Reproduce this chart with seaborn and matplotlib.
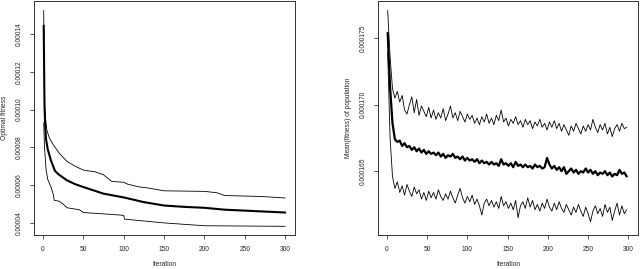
import numpy as np
import pandas as pd
import matplotlib
matplotlib.use("Agg")
import matplotlib.pyplot as plt
import matplotlib.ticker as mticker
import seaborn as sns

# panel izquierdo: fitness optimo (nudos, unidades 1e-5)
it_sup = [1, 2, 3, 5, 8, 12, 20, 30, 40, 50, 65, 75, 85, 100, 105, 120, 130, 150, 200, 215, 225, 270, 300]
opt_sup = [15.25, 10.4, 9.6, 8.9, 8.5, 8.2, 7.7, 7.25, 7.0, 6.8, 6.7, 6.55, 6.2, 6.15, 6.05, 5.9, 5.85,
           5.7, 5.67, 5.6, 5.45, 5.4, 5.32]
it_med = [1, 2, 3, 4, 6, 8, 10, 15, 20, 30, 40, 50, 75, 100, 110, 125, 150, 175, 200, 225, 250, 300]
opt_med = [14.45, 10.2, 9.0, 8.4, 7.9, 7.6, 7.3, 6.75, 6.55, 6.25, 6.05, 5.9, 5.55, 5.35, 5.25, 5.1,
           4.92, 4.85, 4.8, 4.7, 4.65, 4.55]
it_inf = [1, 2, 4, 6, 10, 13, 14, 20, 25, 30, 45, 50, 85, 100, 101, 150, 200, 300]
opt_inf = [9.3, 8.0, 6.8, 6.3, 5.9, 5.5, 5.2, 5.15, 5.0, 4.8, 4.7, 4.55, 4.45, 4.4, 4.2, 4.0, 3.85, 3.82]

# panel derecho: media del fitness de la poblacion (cada 3 iteraciones, unidades 1e-6)
media_sup = [177.1, 173.6, 171.2, 170.5, 171.0, 170.2, 170.7, 169.6, 169.3, 170.0,
             170.6, 169.4, 170.4, 169.2, 169.9, 169.5, 169.1, 169.8, 169.0, 169.6,
             168.9, 169.4, 169.0, 169.7, 168.8, 169.3, 169.9, 169.0, 169.4, 168.8,
             169.5, 169.1, 168.7, 169.3, 168.9, 169.2, 168.6, 169.0, 168.5, 169.1,
             168.7, 169.3, 168.6, 169.0, 168.5, 169.2, 168.8, 169.6, 168.7, 169.0,
             168.4, 168.9, 168.6, 169.1, 168.5, 168.8, 168.3, 168.9, 168.5, 168.8,
             168.2, 168.7, 168.4, 168.9, 168.3, 168.6, 168.1, 168.7, 168.3, 168.8,
             168.2, 168.6, 168.0, 168.5, 168.1, 167.7, 168.4, 168.0, 168.6, 168.2,
             167.8, 168.4, 168.0, 168.5, 168.1, 168.9, 168.3, 167.9, 168.5, 168.1,
             168.6, 167.8, 168.3, 167.6, 168.2, 168.5, 168.0, 168.6, 168.2, 168.3]
media_med = [175.4, 171.3, 168.6, 167.4, 167.2, 167.3, 166.9, 167.1, 166.8, 166.9,
             166.6, 166.8, 166.5, 166.7, 166.4, 166.6, 166.3, 166.5, 166.3, 166.4,
             166.2, 166.4, 166.1, 166.3, 166.0, 166.2, 166.1, 166.3, 166.0, 166.1,
             165.9, 166.1, 165.8, 166.0, 165.8, 165.9, 165.7, 165.9, 165.6, 165.8,
             165.6, 165.7, 165.5, 165.7, 165.5, 165.6, 165.4, 165.9, 165.5, 165.6,
             165.4, 165.6, 165.3, 165.7, 165.4, 165.5, 165.3, 165.5, 165.3, 165.4,
             165.2, 165.5, 165.3, 165.4, 165.2, 165.3, 166.0, 165.5, 165.2, 165.4,
             165.1, 165.3, 165.0, 165.3, 164.8, 165.0, 165.2, 164.9, 165.1, 164.8,
             165.0, 164.9, 165.2, 164.9, 165.1, 164.8, 165.0, 164.7, 164.9, 164.8,
             165.0, 164.7, 164.9, 164.6, 164.8, 164.7, 165.1, 164.8, 164.9, 164.6]
media_inf = [174.0, 167.5, 164.6, 163.7, 164.2, 163.4, 163.9, 163.2, 164.0, 163.5,
             163.1, 163.8, 163.3, 163.6, 162.9, 163.4, 162.8, 163.5, 163.0, 163.4,
             162.9, 163.6, 163.1, 162.8, 163.3, 162.9, 163.5, 163.0, 162.6, 163.2,
             163.7, 163.0, 162.6, 163.1, 162.7, 163.2, 162.5, 162.9, 162.4, 161.7,
             162.6, 162.9, 162.4, 162.8, 162.3, 162.7, 162.2, 163.1, 162.4, 162.7,
             162.2, 162.6, 162.1, 162.8, 161.5, 162.4, 162.7, 162.2, 163.0, 162.3,
             162.8, 162.1, 162.5, 162.0, 162.6, 162.2, 162.9, 162.3, 162.0, 162.6,
             162.1, 162.7, 162.2, 161.9, 162.5, 162.1, 161.7, 162.3, 161.9, 162.5,
             162.0, 161.6, 162.3, 161.8, 161.2, 162.0, 162.4, 161.8, 162.2, 161.6,
             162.5, 161.9, 162.3, 161.3, 162.0, 162.6, 161.7, 162.4, 161.8, 162.1]

sns.set_style("ticks")
plt.rcParams["font.family"] = ["Liberation Sans", "DejaVu Sans"]
fs = 4.8

fig = plt.figure(figsize=(6.4, 2.69), dpi=100)
W, H = 640, 269
ax1 = fig.add_axes([34 / W, (H - 235) / H, (295 - 34) / W, 234 / H])
ax2 = fig.add_axes([378 / W, (H - 235) / H, (638 - 378) / W, 234 / H])

# 1. panel izquierdo
for it, val, lw in [(it_sup, opt_sup, 0.6), (it_inf, opt_inf, 0.6), (it_med, opt_med, 1.5)]:
    sns.lineplot(x=it, y=np.array(val) * 1e-5, ax=ax1, color="black", lw=lw,
                 estimator=None, sort=False)
ax1.set_xlim(-11, 312)
ax1.set_ylim(3.36e-5, 15.75e-5)
ax1.set_yticks([4e-5, 6e-5, 8e-5, 10e-5, 12e-5, 14e-5])
ax1.yaxis.set_major_formatter(mticker.FormatStrFormatter("%.5f"))
ax1.set_ylabel("Optimal fitness", fontsize=fs, labelpad=6)

# 2. panel derecho
for val, lw in [(media_sup, 0.6), (media_inf, 0.6), (media_med, 1.6)]:
    it = np.arange(1, 1 + 3 * len(val), 3)
    sns.lineplot(x=it, y=np.array(val) * 1e-6, ax=ax2, color="black", lw=lw,
                 estimator=None, sort=False)
ax2.set_xlim(-11, 312)
ax2.set_ylim(160.2e-6, 177.8e-6)
ax2.set_yticks([165e-6, 170e-6, 175e-6])
ax2.yaxis.set_major_formatter(mticker.FormatStrFormatter("%.6f"))
ax2.set_ylabel("Mean(fitness) of population", fontsize=fs, labelpad=6)

for ax in (ax1, ax2):
    ax.set_xticks([0, 50, 100, 150, 200, 250, 300])
    ax.set_xlabel("Iteration", fontsize=fs, labelpad=6)
    ax.tick_params(axis="both", labelsize=fs, length=3, width=0.6, color="#333333", pad=5)
    for lab in ax.get_yticklabels():
        lab.set_rotation(90)
        lab.set_va("center")
    for s in ax.spines.values():
        s.set_visible(True)
        s.set_linewidth(0.7)
        s.set_color("#333333")

fig.savefig("out.png", dpi=100)
